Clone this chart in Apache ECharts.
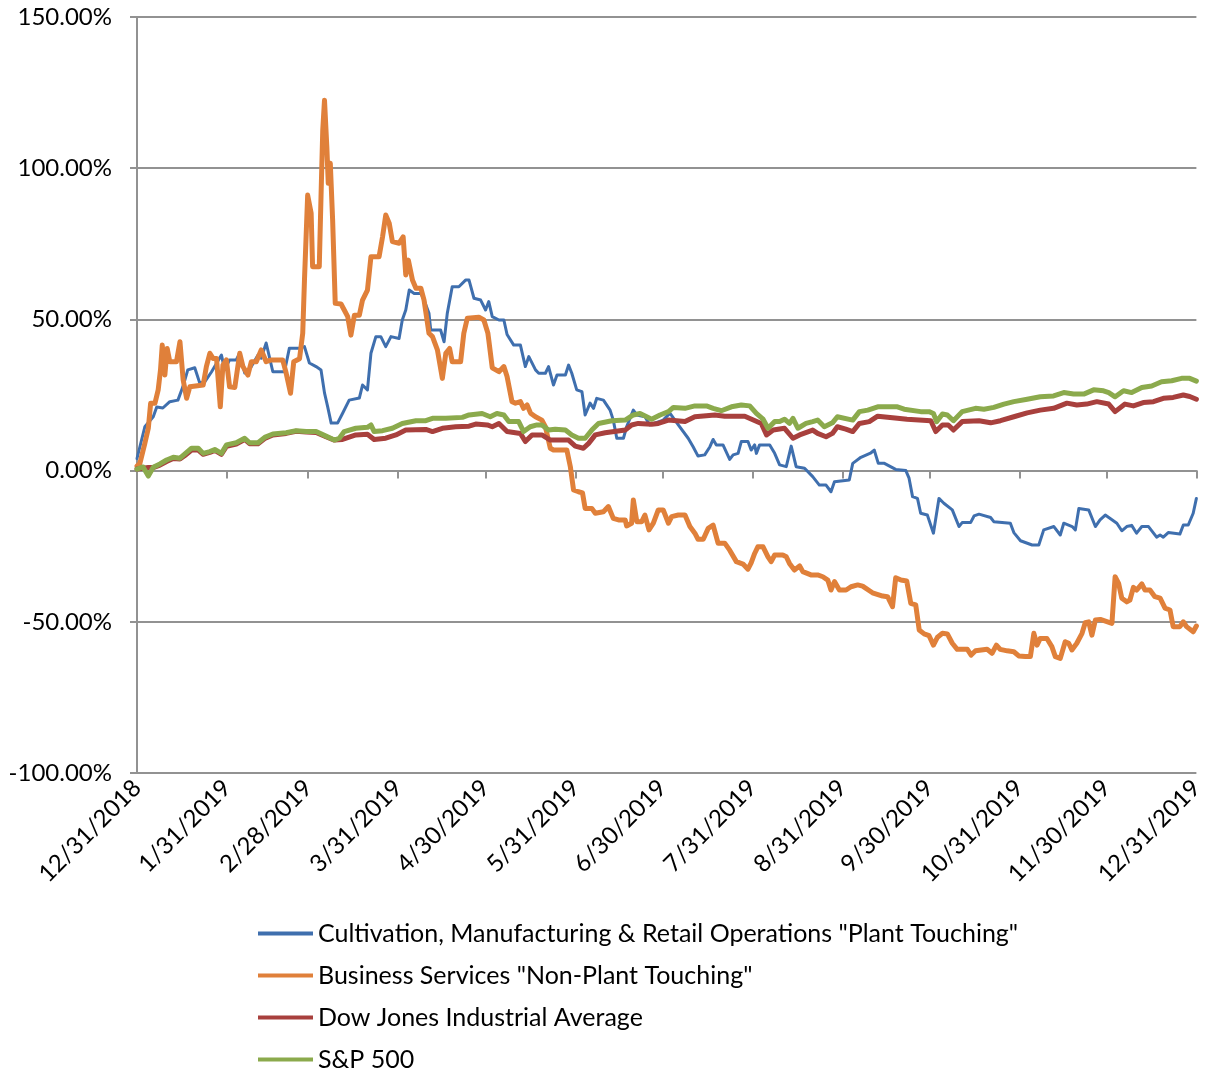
<!DOCTYPE html>
<html>
<head>
<meta charset="utf-8">
<script src="https://cdn.jsdelivr.net/npm/echarts@6/dist/echarts.min.js"></script>
<style>
html,body{margin:0;padding:0;background:#fff;}
#chart{width:1207px;height:1075px;}
</style>
</head>
<body>
<div id="chart"></div>
<script>
// X positions are days since 12/31/2018
const tickDays = [0, 31, 59, 90, 120, 151, 181, 212, 243, 273, 304, 334, 365];
const tickLabels = ['12/31/2018', '1/31/2019', '2/28/2019', '3/31/2019', '4/30/2019', '5/31/2019',
  '6/30/2019', '7/31/2019', '8/31/2019', '9/30/2019', '10/31/2019', '11/30/2019', '12/31/2019'];
const yTicks = [-100, -50, 0, 50, 100, 150];

const seriesNames = ['Cultivation, Manufacturing & Retail Operations "Plant Touching"',
  'Business Services "Non-Plant Touching"', 'Dow Jones Industrial Average', 'S&P 500'];

const blueDays = [0,2.7,5.6,6.8,8.9,11.3,14.1,15.8,17.5,19.9,21.6,23.4,25.7,29.1,30.2,31.9,34.2,35.4,37.1,39.4,41.7,42.8,44.5,46.8,50.8,52.5,56.0,57.7,59.4,61.7,63.4,64.6,65.7,66.9,69.1,70.8,73.1,76.6,77.7,79.4,80.6,82.3,84.0,85.7,87.5,90.3,91.4,92.6,93.8,95.5,97.8,98.9,100.6,101.2,104.6,105.8,106.9,108.6,110.9,113.2,114.4,116.1,118.4,120.1,121.2,122.4,124.7,126.4,127.5,129.8,132.1,133.8,135.0,137.3,138.4,140.7,141.8,143.5,144.7,147.6,148.7,149.8,151.5,153.3,154.4,156.1,157.3,158.4,160.7,163.0,164.1,165.3,167.6,168.7,171.0,172.2,175.0,176.7,181.3,183.6,186.5,189.9,191.6,193.3,195.6,197.4,198.5,199.6,201.9,204.2,205.4,207.1,208.2,210.5,211.6,212.8,213.4,214.5,218.0,219.7,221.4,223.7,225.4,227.1,230.0,232.8,235.1,237.4,239.1,240.3,245.4,246.6,249.4,252.9,254.0,255.4,257.5,261.4,264.9,266.0,267.2,268.9,270.0,272.3,274.4,276.3,278.0,280.9,283.2,284.3,287.2,288.4,290.1,294.1,295.2,300.9,302.1,304.4,308.4,310.7,312.4,315.9,318.1,319.3,322.2,323.3,324.5,327.9,330.2,331.8,333.6,337.6,339.3,341.0,342.7,344.4,346.2,348.5,351.3,352.5,353.6,355.3,359.3,360.5,362.2,363.9,365.0];
const blueVals = [4,14.5,17.8,21,20.7,22.8,23.3,27.7,33.3,34,29,29.4,32.7,38.2,33.3,36.6,36.6,38.9,32.3,34.4,38.2,37.2,42.2,32.7,32.7,40.5,40.5,41,35.6,34.4,33.3,25.7,21.1,15.7,15.7,18.9,23.3,24,28.3,26.7,38.8,44.3,44.3,41,44.3,43.7,49.8,53.1,59.7,58.6,58.6,56.4,52,46.5,46.5,42.6,52,60.8,60.8,63,63,57,56.4,53.1,55.9,50.9,49.8,49.8,45,41.5,41.5,34.4,37.7,33.3,32.2,32.2,34.4,28.3,31.6,31.6,34.9,32.2,26.7,26.1,18.4,22.3,20.6,23.9,23.3,20,16.7,10.7,10.7,14.5,20,18.4,17.8,15.1,16.7,19,15.1,10.7,7.9,4.8,5.2,7.9,10.3,8.5,8.5,3.7,5.2,5.7,9.6,9.6,6.8,8.5,5.7,8.5,8.5,5.7,1.9,1.3,8.1,1.3,0.8,-2,-4.8,-4.8,-7,-3.7,-3.1,2.4,4.4,5.9,6.8,2.4,2.4,0.4,0,-2.5,-8.6,-9.2,-14.1,-14.7,-20.7,-9.2,-10.8,-13,-18.5,-17.2,-17.2,-15,-14.4,-15.5,-16.9,-17.4,-20.5,-23.2,-24.6,-24.6,-19.6,-18.5,-21.3,-17.4,-18.5,-19.6,-12.5,-13,-18.5,-16.3,-14.7,-17.4,-19.9,-18.5,-18.1,-20.7,-18.5,-18.5,-22,-21.3,-22,-20.5,-21,-18,-18,-14.1,-9.2];

const orangeDays = [0,1.0,2.7,3.9,4.7,6.2,7.3,8.1,8.7,9.6,10.4,11.3,12.5,13.6,14.8,15.9,17.1,18.2,22.8,23.9,25.1,26.2,27.4,28.7,29.6,30.8,31.9,33.7,35.4,36.5,38.2,39.4,41.1,42.8,44.5,46.3,50.2,51.4,52.9,54.0,56.0,57.1,57.7,58.8,60.0,60.5,62.8,63.4,64.0,64.6,65.4,65.9,66.6,67.4,68.3,70.3,71.4,72.6,73.7,74.9,76.6,77.7,79.4,80.6,83.4,84.6,85.7,86.9,88.0,90.3,91.7,92.6,93.5,94.9,96.1,97.8,98.9,100.6,101.8,103.5,105.2,106.4,107.7,108.6,111.5,112.6,113.8,117.8,119.5,120.9,121.2,122.4,124.7,126.4,127.5,129.2,130.4,132.1,133.2,134.4,135.6,137.3,139.5,140.7,142.4,143.5,148.1,149.3,150.4,152.1,153.5,154.4,156.7,157.9,160.7,162.4,164.1,165.9,168.2,168.7,170.4,171.0,172.2,173.9,175.0,176.4,177.9,179.6,181.3,183.1,184.2,186.5,188.8,190.5,192.2,193.3,195.1,196.8,198.5,200.2,202.5,204.2,206.5,208.8,210.5,211.6,212.8,213.9,215.7,217.4,218.5,219.7,222.5,223.7,224.8,226.5,228.3,229.4,232.2,234.5,236.3,238.0,239.1,240.3,242.0,244.3,246.0,248.3,250.0,253.4,256.9,258.6,260.3,261.4,263.2,265.2,266.6,268.3,269.5,271.2,272.9,274.4,275.8,277.5,279.2,280.9,282.6,286.1,287.4,288.9,292.9,294.6,296.1,297.4,299.8,302.1,303.8,306.1,307.8,309.0,310.1,311.2,313.5,315.2,316.4,318.1,319.8,321.0,322.1,323.8,325.6,326.7,327.9,329.0,330.2,331.9,335.9,337.0,338.2,339.3,341.0,342.1,343.3,344.4,346.2,347.3,349.0,350.7,352.5,354.2,355.9,357.0,359.3,360.5,361.6,363.9,365.0];
const orangeVals = [1.5,2.4,9,14,22.3,22.3,26.7,33.3,41.5,31.6,40.4,36,36,36,42.6,30,23.9,27.7,28.3,34.4,38.8,37.1,37.1,21.1,34.9,36.6,27.7,27.5,38.8,34.4,31.6,36,36,39.9,36,36.6,36.6,32.2,25.6,36,37,45.4,63,91.1,85.1,67.4,67.4,90.6,112.6,122.5,107.1,95,101.6,82.9,55.3,55.1,53.1,50.9,44.8,51.4,51.4,56.4,59.7,70.7,70.7,77.3,84.5,81.8,75.7,75.2,77.3,64.7,69.6,63,60.3,60.3,56.4,45.4,44.3,39.9,30.5,38.8,40.4,36,36,45.4,50.4,50.7,49.8,45.4,43.2,34,32.7,34.4,31.1,22.8,22.3,22.8,20.6,21.7,19,17.8,16.7,14.5,7.4,6.8,6.8,1.3,-6.4,-7,-7.4,-12.5,-12.5,-14.1,-13.6,-11.9,-15.8,-16.3,-16.3,-18.3,-17.4,-9.7,-16.9,-16.9,-14.7,-19.6,-17.4,-13,-13,-17.4,-15.2,-14.7,-14.7,-18.5,-20.7,-22.7,-22.7,-19.1,-18,-24,-24,-26.3,-30.1,-30.9,-32.6,-30.5,-27.4,-25.2,-25.2,-28.5,-30.1,-27.9,-27.9,-28.5,-30.7,-32.9,-31.5,-33.4,-34.5,-34.5,-35.1,-36.2,-39.5,-36.7,-39.5,-39.5,-38.4,-37.8,-38.2,-40.4,-41.5,-41.7,-45,-35.4,-36.2,-36.5,-43.9,-44.4,-52.7,-54,-54.6,-57.7,-55.1,-53.8,-54,-57.1,-59.1,-59.1,-61,-59.6,-59.1,-60.4,-57.7,-59.1,-59.6,-59.9,-61.3,-61.5,-61.5,-53.8,-57.7,-55.5,-55.5,-58.2,-61.5,-62.1,-56.6,-57.1,-59.3,-57.1,-53.8,-50.3,-50,-54.4,-49.4,-49.2,-50.5,-35.1,-37.3,-42.2,-43.4,-42.8,-38.6,-39.5,-37.5,-39.5,-39.5,-41.7,-42.2,-45.5,-46.1,-51.6,-51.6,-50,-51.6,-53.3,-51.4];

const dowDays = [0,3.9,5.6,7.9,10.2,12.5,14.8,16.5,18.8,21.1,22.8,25.1,26.8,29.1,30.8,34.2,37.1,38.8,41.7,44.0,46.8,51.4,54.8,58.3,61.7,65.1,68.0,70.8,75.4,79.4,81.7,85.7,89.2,92.6,99.5,101.8,105.2,109.8,114.4,116.7,120.7,122.4,124.7,127.5,132.1,133.8,136.1,139.5,142.4,148.7,151.0,153.8,155.6,157.9,161.3,168.2,170.4,172.7,177.3,179.6,183.1,188.8,192.2,199.1,202.5,209.4,215.1,216.9,219.2,223.1,226.0,228.3,232.8,234.5,237.4,239.6,241.3,244.2,246.6,248.9,252.3,255.2,262.0,265.3,273.5,275.2,277.5,279.5,281.3,284.3,290.1,294.1,297.5,302.1,306.7,311.2,315.8,320.4,323.8,327.2,330.7,334.8,337.0,340.4,343.3,346.7,350.2,353.6,357.0,360.5,362.7,365.0];
const dowVals = [0.5,1,1,1.8,3,4,3.8,5,6.8,6.8,5.4,6,6.7,5.4,8,8.8,10.3,8.9,8.9,10.6,11.8,12.3,13,12.8,12.6,11.2,10.1,10.3,11.8,12,10.3,10.7,11.8,13.4,13.6,12.9,14,14.5,14.7,15.4,15.1,14.5,15.6,12.9,12.3,9.6,11.8,11.8,10.1,10.1,8.1,7.4,9,11.8,12.5,13.4,15.1,15.6,15.3,15.6,16.7,16.2,17.8,18.4,18,18,15.6,11.8,13.4,14,10.7,11.8,13.4,12.3,11.2,12.3,14.5,13.7,12.9,15.6,16.2,18,17.3,17,16.5,12.9,15.1,15.1,13.4,16.2,16.5,15.8,16.5,17.8,19.1,20,20.6,22.3,21.7,22,22.8,22,19.5,22,21.4,22.5,22.8,23.9,24.2,25,24.5,23.6];

const spDays = [0,0.4,2.1,3.9,5.6,7.9,10.2,12.5,14.8,16.5,18.8,21.1,22.8,25.1,26.8,29.1,30.8,34.2,37.1,38.8,41.7,44.0,46.8,51.4,54.8,58.3,61.7,65.1,68.0,69.7,71.4,75.4,79.4,80.6,81.7,84.6,88.0,91.4,96.1,99.5,101.8,106.4,112.1,114.4,118.9,121.7,124.0,126.4,128.1,131.5,133.2,135.5,137.8,139.5,141.8,144.1,147.6,149.8,152.1,154.4,156.7,159.0,163.6,168.2,171.0,173.3,175.6,177.3,180.2,183.1,184.8,188.8,192.2,196.2,198.5,201.3,204.8,208.2,211.1,213.4,215.7,217.4,219.7,221.4,223.1,224.8,226.0,227.7,230.5,232.8,234.5,236.8,239.6,241.3,246.6,248.9,251.8,255.2,262.0,264.3,270.0,272.9,274.4,275.5,277.5,279.2,281.3,284.3,288.9,291.8,295.2,298.7,302.1,306.7,311.2,315.8,319.3,322.7,326.2,329.6,333.0,334.8,337.0,339.9,342.7,346.2,349.6,353.0,356.5,359.9,362.7,365.0];
const spVals = [0.5,0.8,1.2,-1.8,1.1,2.2,3.5,4.4,4.1,5.5,7.4,7.4,5.7,6.3,7,5.7,8.5,9.2,10.7,9.2,9.2,11,12.1,12.5,13.2,12.9,12.9,11.4,10.1,10.7,12.9,14,14.3,15.1,12.9,13.2,14,15.6,16.5,16.5,17.3,17.3,17.6,18.4,18.9,17.8,18.9,18.4,16.2,16.2,12.9,14.5,15.1,15.1,13.4,13.7,13.4,11.8,10.7,10.7,13.4,15.6,16.5,16.7,18.4,18.9,17.8,17,18.4,19.5,20.9,20.6,21.4,21.4,20.6,19.8,21.1,21.7,21.4,18.9,17,14,16.2,16.2,17,15.6,17.3,14,15.6,16.2,16.7,14.5,15.8,17.8,16.7,19.5,20,21.1,21.1,20.3,19.5,19.5,18.9,16.2,18.7,18.4,16.5,19.5,20.6,20.3,20.9,22,22.8,23.6,24.4,24.7,25.8,25.3,25.3,26.7,26.4,25.8,24.4,26.4,25.8,27.5,28,29.4,29.7,30.5,30.5,29.6];

const colors = ['#3F6FAE', '#E0803A', '#A8403D', '#8BAA4C'];
const widths = [3, 5, 5, 5];

function pairs(days, vals) { return days.map((d, i) => [d, vals[i]]); }
const allData = [pairs(blueDays, blueVals), pairs(orangeDays, orangeVals), pairs(dowDays, dowVals), pairs(spDays, spVals)];

const FONT = 'Lato';
const GRID_COLOR = '#929292';

const chart = echarts.init(document.getElementById('chart'), null, { renderer: 'canvas' });
chart.setOption({
  animation: false,
  backgroundColor: '#ffffff',
  textStyle: { fontFamily: FONT, color: '#000' },
  grid: { left: 137, right: 7, top: 17, bottom: 302, containLabel: false },
  legend: {
    orient: 'vertical',
    left: 258,
    top: 921,
    padding: 0,
    itemWidth: 55,
    itemHeight: 4,
    itemGap: 17,
    icon: 'rect',
    data: seriesNames,
    textStyle: { fontFamily: FONT, fontSize: 25, color: '#000', lineHeight: 25 }
  },
  xAxis: [
    {
      type: 'value', min: 0, max: 365,
      axisLine: { show: true, onZero: true, lineStyle: { color: GRID_COLOR, width: 2 } },
      axisTick: { show: true, customValues: tickDays, length: 8, lineStyle: { color: GRID_COLOR, width: 2 } },
      axisLabel: { show: false },
      splitLine: { show: false }
    },
    {
      type: 'value', min: 0, max: 365, position: 'bottom',
      axisLine: { show: false, onZero: false },
      axisTick: { show: false },
      splitLine: { show: false },
      axisLabel: {
        show: true, customValues: tickDays, rotate: 45, margin: 11,
        fontFamily: FONT, fontSize: 24, color: '#000',
        formatter: function (v) {
          const i = tickDays.indexOf(Math.round(v));
          return i >= 0 ? tickLabels[i] : '';
        }
      }
    }
  ],
  yAxis: {
    type: 'value', min: yTicks[0], max: yTicks[yTicks.length - 1], interval: 50,
    axisLine: { show: true, lineStyle: { color: GRID_COLOR, width: 2 } },
    axisTick: { show: true, length: 7, lineStyle: { color: GRID_COLOR, width: 2 } },
    splitLine: { show: true, lineStyle: { color: GRID_COLOR, width: 2 } },
    axisLabel: {
      margin: 25, fontFamily: FONT, fontSize: 24, color: '#000',
      formatter: function (v) { return v.toFixed(2) + '%'; }
    }
  },
  series: seriesNames.map((name, i) => ({
    name: name,
    type: 'line',
    xAxisIndex: 0,
    data: allData[i],
    showSymbol: false,
    symbol: 'none',
    color: colors[i],
    itemStyle: { color: colors[i] },
    lineStyle: { color: colors[i], width: widths[i], join: 'round', cap: 'round' },
    z: 2 + i
  }))
});
</script>
</body>
</html>
